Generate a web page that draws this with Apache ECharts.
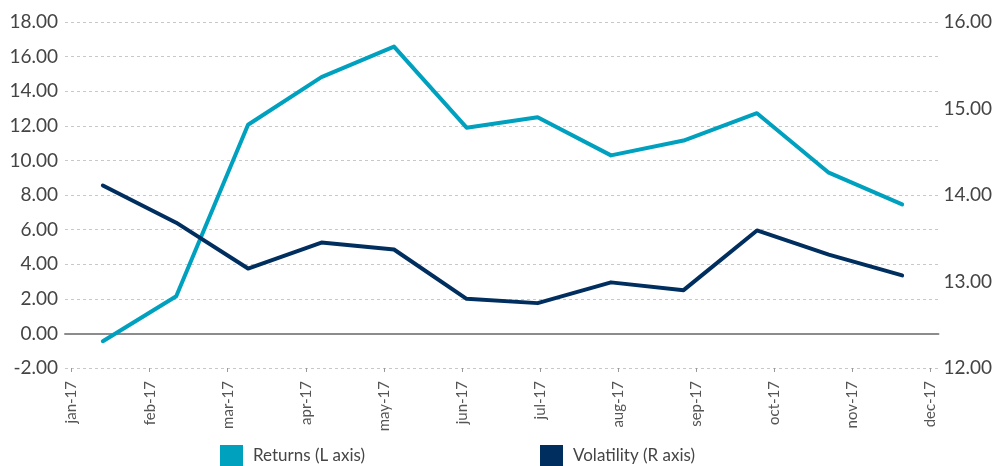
<!DOCTYPE html>
<html>
<head>
<meta charset="utf-8">
<script src="https://cdn.jsdelivr.net/npm/echarts@6/dist/echarts.min.js"></script>
<style>
  html, body { margin: 0; padding: 0; background: #fff; }
  #chart { width: 995px; height: 466px; }
</style>
</head>
<body>
<div id="chart"></div>
<script>
// Month tick labels (x axis)
const monthLabels = ['jan-17','feb-17','mar-17','apr-17','may-17','jun-17','jul-17','aug-17','sep-17','oct-17','nov-17','dec-17'];
const obsMonths = [0.40, 1.34, 2.26, 3.20, 4.13, 5.06, 5.97, 6.91, 7.84, 8.78, 9.70, 10.64];
// Returns (left axis)
const returnsValues = [-0.45, 2.15, 12.06, 14.81, 16.58, 11.89, 12.50, 10.29, 11.15, 12.73, 9.29, 7.46];
// Volatility (right axis)
const volatilityValues = [14.11, 13.68, 13.15, 13.45, 13.37, 12.80, 12.75, 12.99, 12.90, 13.59, 13.31, 13.07];

const seriesNames = ['Returns (L axis)', 'Volatility (R axis)'];
const colors = ['#00a0bf', '#002f5f'];
const FONT = 'Lato, "Open Sans", sans-serif';

const tickIdx = monthLabels.map((_, i) => i);
const pairs = (xs, ys) => xs.map((x, i) => [x, ys[i]]);

const chart = echarts.init(document.getElementById('chart'), null, { renderer: 'canvas' });
chart.setOption({
  animation: false,
  backgroundColor: '#fff',
  textStyle: { fontFamily: FONT },
  grid: { left: 65, right: 50, top: 22, bottom: 98, containLabel: false },
  legend: [
    {
      data: [seriesNames[0]], left: 215, top: 440, icon: 'rect',
      itemWidth: 23, itemHeight: 21, itemGap: 0,
      textStyle: { fontSize: 17, color: '#454545', fontFamily: FONT, padding: [0, 0, 0, 5] }
    },
    {
      data: [seriesNames[1]], left: 535, top: 440, icon: 'rect',
      itemWidth: 23, itemHeight: 21, itemGap: 0,
      textStyle: { fontSize: 17, color: '#454545', fontFamily: FONT, padding: [0, 0, 0, 5] }
    }
  ],
  xAxis: [
    {
      type: 'value', min: -0.085, max: 11.105,
      axisLine: { show: false, onZero: false },
      axisTick: { show: true, customValues: tickIdx, length: 4, lineStyle: { color: '#999', width: 1 } },
      axisLabel: {
        customValues: tickIdx, rotate: 90, margin: 13,
        fontSize: 15, color: '#555', fontFamily: FONT,
        formatter: v => monthLabels[Math.round(v)]
      },
      splitLine: { show: false }
    },
    {
      type: 'value', min: -0.085, max: 11.105, position: 'bottom',
      axisLine: { show: true, onZero: true, onZeroAxisIndex: 0, lineStyle: { color: '#8c8c8c', width: 2 } },
      axisTick: { show: false }, axisLabel: { show: false }, splitLine: { show: false }
    }
  ],
  yAxis: [
    {
      type: 'value', min: -2, max: 18, interval: 2, position: 'left',
      axisLine: { show: false }, axisTick: { show: false },
      axisLabel: { fontSize: 19, color: '#444', fontFamily: FONT, margin: 7, formatter: v => v.toFixed(2) },
      splitLine: { show: true, lineStyle: { color: '#c8c8c8', width: 1, type: [3, 3] } }
    },
    {
      type: 'value', min: 12, max: 16, interval: 1, position: 'right',
      axisLine: { show: false }, axisTick: { show: false },
      axisLabel: { fontSize: 19, color: '#444', fontFamily: FONT, margin: 5, formatter: v => v.toFixed(2) },
      splitLine: { show: false }
    }
  ],
  series: [
    {
      name: seriesNames[0], type: 'line', xAxisIndex: 0, yAxisIndex: 0,
      data: pairs(obsMonths, returnsValues),
      showSymbol: false, symbol: 'none', color: colors[0],
      lineStyle: { color: colors[0], width: 4, cap: 'round', join: 'round' },
      z: 5
    },
    {
      name: seriesNames[1], type: 'line', xAxisIndex: 0, yAxisIndex: 1,
      data: pairs(obsMonths, volatilityValues),
      showSymbol: false, symbol: 'none', color: colors[1],
      lineStyle: { color: colors[1], width: 4, cap: 'round', join: 'round' },
      z: 5
    }
  ]
});
</script>
</body>
</html>
